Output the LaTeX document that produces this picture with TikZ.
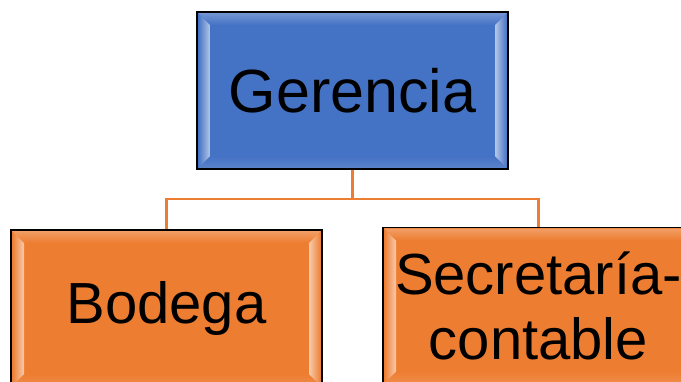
\documentclass[tikz,border=0pt]{standalone}
\usepackage{fontspec}
\setmainfont{Liberation Sans}
\usetikzlibrary{calc}
\definecolor{gblue}{HTML}{4472C4}
\definecolor{gorange}{HTML}{ED7D31}
\tikzset{
  bevelbox/.style={draw=black, line width=1.5pt, fill=#1,
    minimum width=311pt, minimum height=157pt, inner sep=0pt, align=center,
    path picture={
      \def\bv{12pt}
      \coordinate (nw) at ([xshift=1pt,yshift=-1pt]path picture bounding box.north west);
      \coordinate (ne) at ([xshift=-1pt,yshift=-1pt]path picture bounding box.north east);
      \coordinate (sw) at ([xshift=1pt,yshift=1pt]path picture bounding box.south west);
      \coordinate (se) at ([xshift=-1pt,yshift=1pt]path picture bounding box.south east);
      \shade[top color=white!25!#1, bottom color=#1]
        (nw) -- (ne) -- ($(ne)+(-\bv,-\bv)$) -- ($(nw)+(\bv,-\bv)$) -- cycle;
      \shade[top color=#1, bottom color=white!12!#1]
        (sw) -- (se) -- ($(se)+(-\bv,\bv)$) -- ($(sw)+(\bv,\bv)$) -- cycle;
      \shade[left color=#1, right color=white!60!#1]
        (nw) -- (sw) -- ($(sw)+(\bv,\bv)$) -- ($(nw)+(\bv,-\bv)$) -- cycle;
      \shade[right color=#1, left color=white!60!#1]
        (ne) -- (se) -- ($(se)+(-\bv,\bv)$) -- ($(ne)+(-\bv,-\bv)$) -- cycle;
    }},
  conn/.style={draw=gorange, line width=2.2pt}
}
\begin{document}
\begin{tikzpicture}[x=1pt,y=-1pt]
\useasboundingbox (0,0) rectangle (681,381);
\clip (0,0) rectangle (681,381);
\node[bevelbox=gblue, font=\fontsize{61}{69}\selectfont] (g) at (352.5,90.5) {Gerencia};
\node[bevelbox=gorange, font=\fontsize{58}{65}\selectfont] (b) at (166.5,308.5) {Bodega};
\node[bevelbox=gorange, font=\fontsize{58}{65}\selectfont] (s) at (538.5,306) {Secretaría-\\contable};
\coordinate (m) at (352.5,199);
\draw[conn] (g.south) -- (m);
\draw[conn] (m) -| (b.north);
\draw[conn] (m) -| (s.north);
\end{tikzpicture}
\end{document}
